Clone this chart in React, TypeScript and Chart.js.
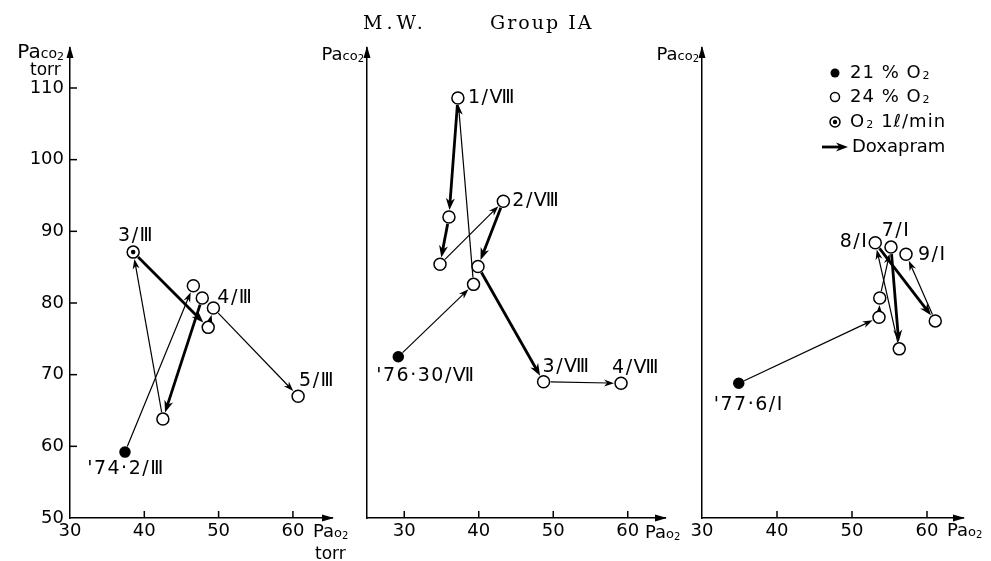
import React, { useEffect, useRef } from "react";
import { Chart, registerables } from "chart.js";
Chart.register(...registerables);

const W = 991;
const H = 561;

// ---------------- data ----------------
const Y_TICKS = [50, 60, 70, 80, 90, 100, 110];
const X_TICKS = [30, 40, 50, 60];

// Panel 1 ('74)
const P1_X = [37.4, 38.5, 46.6, 47.8, 48.6, 49.3, 42.5, 60.7];
const P1_Y = [59.2, 87.1, 82.4, 80.7, 76.6, 79.3, 63.8, 67.0];
const P1_KIND = ["21", "O2", "24", "24", "24", "24", "24", "24"];
const P1_LABELS = ["'74·2/Ⅲ", "3/Ⅲ", "", "", "", "4/Ⅲ", "", "5/Ⅲ"];
// [from, to, doxapram]
const P1_ARROWS = [[0, 2, 0], [6, 1, 0], [1, 4, 1], [3, 6, 1], [4, 5, 0], [5, 7, 0]];

// Panel 2 ('76)
const P2_X = [29.2, 39.3, 37.2, 36.0, 34.8, 43.3, 39.9, 48.7, 59.1];
const P2_Y = [72.5, 82.6, 108.6, 92.0, 85.4, 94.2, 85.1, 69.0, 68.8];
const P2_KIND = ["21", "24", "24", "24", "24", "24", "24", "24", "24"];
const P2_LABELS = ["'76·30/Ⅶ", "", "1/Ⅷ", "", "", "2/Ⅷ", "", "3/Ⅷ", "4/Ⅷ"];
const P2_ARROWS = [[0, 1, 0], [1, 2, 0], [2, 3, 1], [3, 4, 1], [4, 5, 0], [5, 6, 1], [6, 7, 1], [7, 8, 0]];

// Panel 3 ('77)
const P3_X = [34.9, 53.6, 53.7, 55.2, 56.3, 53.1, 61.1, 57.2];
const P3_Y = [68.8, 78.0, 80.7, 87.8, 73.6, 88.4, 77.5, 86.8];
const P3_KIND = ["21", "24", "24", "24", "24", "24", "24", "24"];
const P3_LABELS = ["'77·6/Ⅰ", "", "", "7/Ⅰ", "", "8/Ⅰ", "", "9/Ⅰ"];
const P3_ARROWS = [[0, 1, 0], [1, 2, 0], [2, 3, 0], [3, 4, 1], [4, 5, 0], [5, 6, 1], [6, 7, 0]];

const LEGEND_TEXT = ["21 % O", "24 % O", "O", "Doxapram"];

// ---------------- layout / style ----------------
const AREA_TOP = 48;
const AREA_BOTTOM = 518;
const Y_MIN = 50;
const Y_MAX = 115.58;
const FONT = "'DejaVu Sans', sans-serif";

type LabelPos = [number, number, CanvasTextAlign] | null;

const P1_LABEL_POS: LabelPos[] = [[1, 17, "center"], [3, -16, "center"], null, null, null, [22, -10, "center"], null, [19, -15, "center"]];
const P2_LABEL_POS: LabelPos[] = [[-22, 19, "left"], null, [10, 0, "left"], null, null, [9, 0, "left"], null, [-1, -15, "left"], [-9, -15, "left"]];
const P3_LABEL_POS: LabelPos[] = [[-25, 22, "left"], null, null, [5, -16, "center"], null, [-7, -1, "right"], null, [12, 1, "left"]];

type PanelCfg = {
  xs: number[];
  ys: number[];
  kinds: string[];
  labels: string[];
  labelPos: LabelPos[];
  arrows: number[][];
  left: number;
  right: number;
  xMin: number;
  xMax: number;
  yLabels: boolean;
  legend: boolean;
};

const PANELS: PanelCfg[] = [
  { xs: P1_X, ys: P1_Y, kinds: P1_KIND, labels: P1_LABELS, labelPos: P1_LABEL_POS, arrows: P1_ARROWS, left: 70, right: 332, xMin: 30, xMax: 65.26, yLabels: true, legend: false },
  { xs: P2_X, ys: P2_Y, kinds: P2_KIND, labels: P2_LABELS, labelPos: P2_LABEL_POS, arrows: P2_ARROWS, left: 367, right: 665, xMin: 25, xMax: 65, yLabels: false, legend: false },
  { xs: P3_X, ys: P3_Y, kinds: P3_KIND, labels: P3_LABELS, labelPos: P3_LABEL_POS, arrows: P3_ARROWS, left: 702, right: 963, xMin: 30, xMax: 64.8, yLabels: false, legend: true },
];

function radiusOf(kind: string) {
  return kind === "21" ? 5 : 6;
}

function drawArrow(ctx: CanvasRenderingContext2D, x1: number, y1: number, x2: number, y2: number, thick: boolean, r1: number, r2: number) {
  const dx = x2 - x1;
  const dy = y2 - y1;
  const len = Math.hypot(dx, dy);
  if (len < 1) return;
  const ux = dx / len;
  const uy = dy / len;
  const sx = x1 + ux * r1;
  const sy = y1 + uy * r1;
  const ex = x2 - ux * r2;
  const ey = y2 - uy * r2;
  const hl = thick ? 12 : 10;
  const hw = thick ? 4.5 : 3.5;
  ctx.save();
  ctx.strokeStyle = "#000";
  ctx.fillStyle = "#000";
  ctx.lineWidth = thick ? 2.8 : 1.2;
  ctx.lineCap = "butt";
  ctx.beginPath();
  ctx.moveTo(sx, sy);
  ctx.lineTo(ex - ux * hl * 0.6, ey - uy * hl * 0.6);
  ctx.stroke();
  ctx.beginPath();
  ctx.moveTo(ex, ey);
  ctx.lineTo(ex - ux * hl - uy * hw, ey - uy * hl + ux * hw);
  ctx.lineTo(ex - ux * hl * 0.7, ey - uy * hl * 0.7);
  ctx.lineTo(ex - ux * hl + uy * hw, ey - uy * hl - ux * hw);
  ctx.closePath();
  ctx.fill();
  ctx.restore();
}

function setSpacing(ctx: CanvasRenderingContext2D, px: number) {
  (ctx as any).letterSpacing = `${px}px`;
}

function drawSubText(ctx: CanvasRenderingContext2D, x: number, y: number, main: string, sub: string, size: number) {
  ctx.font = `${size}px ${FONT}`;
  ctx.textAlign = "left";
  ctx.textBaseline = "middle";
  ctx.fillText(main, x, y);
  const w = ctx.measureText(main).width;
  ctx.font = `${Math.round(size * 0.6)}px ${FONT}`;
  ctx.fillText(sub, x + w + 1, y + 3);
  return w + 1 + ctx.measureText(sub).width;
}

function makePlugin(cfg: PanelCfg) {
  return {
    id: "panelDeco",
    beforeDatasetsDraw(chart: any) {
      const ctx: CanvasRenderingContext2D = chart.ctx;
      const xs = chart.scales.x;
      const ys = chart.scales.y;
      cfg.arrows.forEach(([a, b, d]) => {
        drawArrow(
          ctx,
          xs.getPixelForValue(cfg.xs[a]),
          ys.getPixelForValue(cfg.ys[a]),
          xs.getPixelForValue(cfg.xs[b]),
          ys.getPixelForValue(cfg.ys[b]),
          d === 1,
          radiusOf(cfg.kinds[a]) + 1,
          radiusOf(cfg.kinds[b]) + 1
        );
      });
    },
    afterDatasetsDraw(chart: any) {
      const ctx: CanvasRenderingContext2D = chart.ctx;
      const xs = chart.scales.x;
      const ys = chart.scales.y;
      ctx.save();
      ctx.fillStyle = "#000";
      ctx.font = `19px ${FONT}`;
      setSpacing(ctx, 1.5);
      ctx.textBaseline = "middle";
      cfg.labels.forEach((t, i) => {
        const p = cfg.labelPos[i];
        if (!t || !p) return;
        ctx.textAlign = p[2];
        ctx.fillText(t, xs.getPixelForValue(cfg.xs[i]) + p[0], ys.getPixelForValue(cfg.ys[i]) + p[1]);
      });
      ctx.restore();
    },
    afterDraw(chart: any) {
      const ctx: CanvasRenderingContext2D = chart.ctx;
      const xs = chart.scales.x;
      const ys = chart.scales.y;
      const area = chart.chartArea;
      ctx.save();
      ctx.strokeStyle = "#000";
      ctx.fillStyle = "#000";
      ctx.lineWidth = 1.5;
      // inward tick marks
      xs.ticks.forEach((t: any) => {
        const px = xs.getPixelForValue(t.value);
        if (Math.abs(px - area.left) < 2) return;
        ctx.beginPath();
        ctx.moveTo(px, area.bottom);
        ctx.lineTo(px, area.bottom - 7);
        ctx.stroke();
      });
      if (cfg.yLabels) {
        ys.ticks.forEach((t: any) => {
          const py = ys.getPixelForValue(t.value);
          if (Math.abs(py - area.bottom) < 2) return;
          ctx.beginPath();
          ctx.moveTo(area.left, py);
          ctx.lineTo(area.left + 7, py);
          ctx.stroke();
        });
      }
      // axis arrowheads
      ctx.beginPath();
      ctx.moveTo(area.left, area.top - 2);
      ctx.lineTo(area.left - 3.5, area.top + 10);
      ctx.lineTo(area.left + 3.5, area.top + 10);
      ctx.closePath();
      ctx.fill();
      ctx.beginPath();
      ctx.moveTo(area.right + 2, area.bottom);
      ctx.lineTo(area.right - 10, area.bottom - 3.5);
      ctx.lineTo(area.right - 10, area.bottom + 3.5);
      ctx.closePath();
      ctx.fill();

      if (cfg.legend) {
        const lx = 835;
        const tx = 850;
        const rows = [73, 97, 122, 147];
        setSpacing(ctx, 1);
        // filled
        ctx.beginPath();
        ctx.arc(lx, rows[0], 4.5, 0, Math.PI * 2);
        ctx.fill();
        drawSubText(ctx, tx, rows[0], LEGEND_TEXT[0], "2", 18);
        // open
        ctx.beginPath();
        ctx.arc(lx, rows[1], 4.5, 0, Math.PI * 2);
        ctx.fillStyle = "#fff";
        ctx.fill();
        ctx.lineWidth = 1.5;
        ctx.stroke();
        ctx.fillStyle = "#000";
        drawSubText(ctx, tx, rows[1], LEGEND_TEXT[1], "2", 18);
        // bullseye
        ctx.beginPath();
        ctx.arc(lx, rows[2], 5, 0, Math.PI * 2);
        ctx.stroke();
        ctx.beginPath();
        ctx.arc(lx, rows[2], 2.2, 0, Math.PI * 2);
        ctx.fill();
        const w = drawSubText(ctx, tx, rows[2], LEGEND_TEXT[2], "2", 18);
        ctx.font = `18px ${FONT}`;
        ctx.textBaseline = "middle";
        ctx.fillText("1ℓ/min", tx + w + 7, rows[2]);
        // doxapram arrow
        drawArrow(ctx, 822, rows[3], 848, rows[3], true, 0, 0);
        ctx.font = `18px ${FONT}`;
        setSpacing(ctx, 0);
        ctx.fillText(LEGEND_TEXT[3], 852, rows[3]);
      }
      ctx.restore();
    },
  };
}

function Panel({ cfg }: { cfg: PanelCfg }) {
  const ref = useRef<HTMLCanvasElement>(null);
  useEffect(() => {
    const pts = cfg.xs.map((x, i) => ({ x, y: cfg.ys[i] }));
    const centers = pts.filter((_, i) => cfg.kinds[i] === "O2");
    const chart = new Chart(ref.current as HTMLCanvasElement, {
      type: "scatter",
      data: {
        datasets: [
          {
            data: centers,
            pointRadius: 2.3,
            pointBackgroundColor: "#000",
            pointBorderWidth: 0,
            order: 0,
          },
          {
            data: pts,
            pointRadius: (c: any) => radiusOf(cfg.kinds[c.dataIndex]),
            pointBackgroundColor: (c: any) => (cfg.kinds[c.dataIndex] === "21" ? "#000" : "#fff"),
            pointBorderColor: "#000",
            pointBorderWidth: 1.5,
            order: 1,
          },
        ],
      },
      options: {
        responsive: false,
        animation: false,
        events: [],
        layout: {
          padding: { left: 0, right: W - cfg.right, top: AREA_TOP, bottom: 0 },
        },
        plugins: { legend: { display: false }, tooltip: { enabled: false }, title: { display: false } },
        scales: {
          x: {
            type: "linear",
            min: cfg.xMin,
            max: cfg.xMax,
            afterBuildTicks: (s: any) => {
              s.ticks = X_TICKS.map((v) => ({ value: v }));
            },
            afterFit: (s: any) => {
              s.height = H - AREA_BOTTOM;
            },
            grid: { display: false, drawTicks: false },
            border: { display: true, color: "#000", width: 1.5 },
            ticks: { color: "#000", font: { family: FONT, size: 18 }, padding: 3, maxRotation: 0, autoSkip: false },
          },
          y: {
            type: "linear",
            min: Y_MIN,
            max: Y_MAX,
            afterBuildTicks: (s: any) => {
              s.ticks = Y_TICKS.map((v) => ({ value: v }));
            },
            afterFit: (s: any) => {
              s.width = cfg.left;
            },
            grid: { display: false, drawTicks: false },
            border: { display: true, color: "#000", width: 1.5 },
            ticks: { display: cfg.yLabels, color: "#000", font: { family: FONT, size: 18 }, padding: 6, autoSkip: false },
          },
        },
      } as any,
      plugins: [makePlugin(cfg)],
    });
    return () => chart.destroy();
  }, []);
  return <canvas ref={ref} width={W} height={H} style={{ position: "absolute", left: 0, top: 0 }} />;
}

function AxisName({ sub, size, style }: { sub: string; size?: number; style: React.CSSProperties }) {
  const s = size || 18;
  return (
    <div style={{ position: "absolute", fontFamily: FONT, fontSize: s, lineHeight: "20px", whiteSpace: "nowrap", color: "#000", ...style }}>
      Pa<span style={{ fontSize: Math.round(s * 0.72) }}>{sub}</span>
      <span style={{ fontSize: Math.round(s * 0.55), position: "relative", top: 2 }}>2</span>
    </div>
  );
}

const serifTitle: React.CSSProperties = { position: "absolute", top: 11, fontFamily: "'DejaVu Serif', serif", fontSize: 19, lineHeight: "22px", color: "#000" };

export default function App() {
  return (
    <div style={{ position: "fixed", left: 0, top: 0, width: W, height: H, background: "#fff", overflow: "hidden" }}>
      {PANELS.map((p, i) => (
        <Panel key={i} cfg={p} />
      ))}
      <div style={{ ...serifTitle, left: 363, letterSpacing: 4 }}>M.W.</div>
      <div style={{ ...serifTitle, left: 490, letterSpacing: 2 }}>Group IA</div>
      <AxisName sub="co" size={20} style={{ right: W - 64, top: 41 }} />
      <div style={{ position: "absolute", left: 30, top: 59, fontFamily: FONT, fontSize: 17, lineHeight: "20px" }}>torr</div>
      <AxisName sub="co" style={{ right: W - 364, top: 44 }} />
      <AxisName sub="co" style={{ right: W - 699, top: 44 }} />
      <AxisName sub="o" style={{ left: 313, top: 521 }} />
      <div style={{ position: "absolute", left: 315, top: 543, fontFamily: FONT, fontSize: 17, lineHeight: "20px" }}>torr</div>
      <AxisName sub="o" style={{ left: 645, top: 522 }} />
      <AxisName sub="o" style={{ left: 947, top: 520 }} />
    </div>
  );
}
